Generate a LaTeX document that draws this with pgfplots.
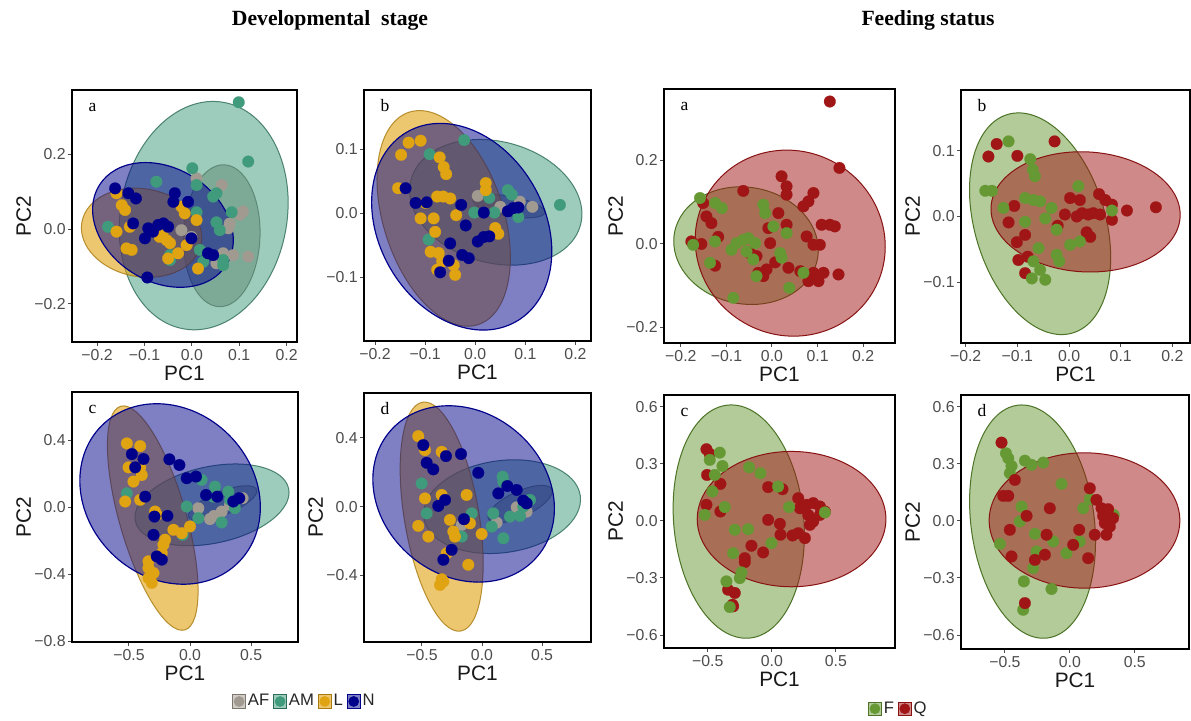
\documentclass[border=0pt]{standalone}
\usepackage{fontspec}
\setmainfont{Liberation Serif}
\newfontfamily\arial{Liberation Sans}
\usepackage{pgfplots}
\pgfplotsset{compat=1.18}
\definecolor{cAF}{HTML}{A09A90}
\definecolor{cAFe}{HTML}{7D776D}
\definecolor{cAM}{HTML}{3F9B7B}
\definecolor{cL}{HTML}{E0A312}
\definecolor{cN}{HTML}{00008B}
\definecolor{cF}{HTML}{669933}
\definecolor{cQ}{HTML}{A01515}
\definecolor{tickgray}{HTML}{4D4D4D}
\tikzset{
 eAF/.style={fill=cAFe, fill opacity=0.5, draw=cAFe!70!black, draw opacity=0.7, line width=0.6pt},
 eAM/.style={fill=cAM, fill opacity=0.5, draw=cAM!70!black, draw opacity=0.8, line width=0.6pt},
 eL/.style={fill=cL, fill opacity=0.6, draw=cL!75!black, draw opacity=0.8, line width=0.6pt},
 eN/.style={fill=cN, fill opacity=0.5, draw=cN, line width=0.7pt},
 eF/.style={fill=cF, fill opacity=0.5, draw=cF!75!black, line width=0.6pt},
 eQ/.style={fill=cQ, fill opacity=0.5, draw=cQ!85!black, line width=0.6pt},
}
\newcommand{\ELL}[6]{\draw[#1, rotate around={#6:(axis cs:#2,#3)}] (axis cs:#2,#3) ellipse [x radius=#4pt, y radius=#5pt];}
\newcommand{\LETTER}[1]{\node[font=\fontsize{10.5}{12}\selectfont, anchor=base west] at ([xshift=6.5pt,yshift=-13pt]rel axis cs:0,1) {#1};}
\newcommand{\KEY}[4]{\addlegendimage{legend image code/.code={\path[draw=#2, fill=#1, fill opacity=#3, line width=0.6pt] (0pt,-4pt) rectangle (8pt,4pt); \fill[#1] (4pt,0pt) circle (3pt);}}\addlegendentry{#4}}
\pgfplotsset{
 panel/.style={scale only axis, anchor=south west, clip=true, axis on top,
   axis line style={black, line width=1.1pt},
   tick align=outside, tick pos=left, major tick length=2.4pt,
   every tick/.style={tickgray, line width=0.6pt},
   ticklabel style={font=\fontsize{9.5}{10}\arial, text=tickgray},
   yticklabel style={inner xsep=1.2pt},
   xticklabel style={inner ysep=2pt},
   every axis x label/.style={at={([yshift=-19pt]axis description cs:0.5,0)}, anchor=center, font=\fontsize{12.5}{14}\arial, text=black!90},
   every axis y label/.style={at={([xshift=-29pt]axis description cs:0,0.5)}, anchor=center, rotate=90, font=\fontsize{12.5}{14}\arial, text=black!90},
 },
 leg/.style={legend style={at={#1}, anchor=center, draw=none, fill=none,
    font=\fontsize{10}{11}\arial, text=black!85, inner sep=0pt,
    nodes={inner xsep=1pt, inner ysep=1pt},
    /tikz/every even column/.append style={column sep=1.2pt},
    /tikz/every odd column/.append style={column sep=0pt}}, legend cell align=left},
 smallx/.style={xtick={-0.2,-0.1,0,0.1,0.2}, xticklabels={−0.2,−0.1,0.0,0.1,0.2}},
 bigx/.style={xtick={-0.5,0,0.5}, xticklabels={−0.5,0.0,0.5}},
 pts/.style={only marks, mark=*, mark size=3.5pt, forget plot, color=#1, mark options={draw=#1, fill=#1, line width=0.1pt}},
}
\begin{document}
\begin{tikzpicture}
\fill[white] (0,0) rectangle (714.6pt,432.6pt);
\path[use as bounding box] (0,0) rectangle (714.6pt,432.6pt);
\node[font=\bfseries\fontsize{13}{15}\selectfont] at (198pt,420.6pt) {Developmental~~stage};
\node[font=\bfseries\fontsize{13}{15}\selectfont] at (556.8pt,420.6pt) {Feeding status};

% ---------- L-a ----------
\begin{axis}[panel, at={(43.2pt,227.4pt)}, width=135pt, height=151.2pt,
  xmin=-0.253, xmax=0.222, ymin=-0.303, ymax=0.373, smallx,
  ytick={-0.2,0,0.2}, yticklabels={−0.2,0.0,0.2}, xlabel={PC1}, ylabel={PC2}]
\ELL{eAF}{0.063}{-0.018}{42.6}{23}{88}
\ELL{eAM}{0.025}{0.036}{69}{50}{80}
\ELL{eL}{-0.106}{-0.010}{36.4}{26.4}{-10}
\ELL{eN}{-0.061}{0.011}{45}{34}{-32}
\addplot[pts=cAF] coordinates {(0.010,0.136)(0.063,0.118)(0.108,0.047)(0.101,0.038)(0.080,0.015)(0.077,0.002)(-0.022,-0.003)(0.066,-0.065)(0.087,-0.070)(0.119,-0.074)(0.052,-0.092)(-0.001,-0.021)};
\addplot[pts=cAM] coordinates {(0.099,0.340)(0.119,0.181)(0.001,0.163)(-0.075,0.127)(0.010,0.118)(0.052,0.096)(0.045,0.087)(0.084,0.045)(0.010,0.045)(0.052,0.018)(0.059,-0.003)(-0.177,0.006)(0.017,-0.056)(-0.046,-0.070)(-0.046,-0.083)(0.066,-0.083)(0.066,-0.097)(0.024,-0.088)};
\addplot[pts=cL] coordinates {(-0.159,0.096)(-0.148,0.064)(-0.141,0.051)(-0.131,0.006)(-0.159,-0.007)(-0.138,-0.052)(-0.127,-0.056)(-0.022,0.060)(-0.015,0.042)(0.010,0.024)(-0.068,-0.021)(-0.053,-0.030)(-0.046,-0.038)(-0.011,-0.043)(-0.029,-0.065)(-0.050,-0.079)(0.013,-0.106)(-0.060,-0.003)};
\addplot[pts=cN] coordinates {(-0.162,0.109)(-0.134,0.096)(-0.118,0.082)(-0.036,0.096)(-0.039,0.073)(-0.008,0.073)(-0.124,0.015)(-0.092,0.002)(-0.071,0.011)(-0.060,0.015)(-0.050,0.006)(-0.082,-0.007)(-0.099,-0.025)(-0.001,-0.025)(0.034,-0.065)(0.045,-0.070)(-0.094,-0.130)};
\LETTER{a}
\end{axis}

% ---------- L-b ----------
\begin{axis}[panel, at={(218.4pt,228pt)}, width=136.2pt, height=150.6pt,
  xmin=-0.222, xmax=0.231, ymin=-0.199, ymax=0.192, smallx,
  ytick={-0.1,0,0.1}, yticklabels={−0.1,0.0,0.1}, xlabel={PC1}]
\ELL{eAF}{0.067}{0.011}{22}{6}{-10}
\ELL{eAM}{0.041}{0.017}{52.6}{36.4}{-15}
\ELL{eL}{-0.063}{-0.008}{67}{36}{108}
\ELL{eN}{-0.027}{-0.021}{65.6}{49.6}{120}
\addplot[pts=cAF] coordinates {(0.005,0.027)(0.050,0.010)(0.089,0.018)(0.114,0.010)};
\addplot[pts=cAM] coordinates {(-0.022,0.114)(-0.091,0.092)(0.065,0.036)(0.073,0.029)(0.028,0.024)(-0.002,0.001)(0.038,0.001)(0.086,-0.006)(-0.093,-0.041)(0.169,0.013)};
\addplot[pts=cL] coordinates {(-0.133,0.110)(-0.109,0.113)(-0.148,0.091)(-0.071,0.087)(-0.063,0.072)(-0.058,0.061)(-0.154,0.039)(0.021,0.047)(0.021,0.036)(-0.076,0.026)(-0.064,0.026)(-0.050,0.023)(-0.099,0.016)(-0.109,-0.008)(-0.083,-0.008)(-0.038,-0.003)(-0.080,-0.029)(0.040,-0.023)(0.046,-0.032)(-0.089,-0.060)(-0.073,-0.062)(-0.066,-0.075)(-0.043,-0.081)(-0.076,-0.088)(-0.040,-0.096)};
\addplot[pts=cN] coordinates {(-0.139,0.039)(-0.119,0.016)(-0.097,0.017)(-0.028,0.013)(-0.019,-0.019)(0.017,0.001)(0.065,0.003)(0.076,0.008)(0.086,0.009)(0.005,-0.044)(0.017,-0.037)(0.028,-0.036)(-0.050,-0.047)(-0.026,-0.065)(-0.013,-0.070)(-0.053,-0.074)(-0.070,-0.092)};
\LETTER{b}
\end{axis}

% ---------- L-c ----------
\begin{axis}[panel, at={(43.2pt,47.4pt)}, width=135.6pt, height=150pt,
  xmin=-0.966, xmax=0.884, ymin=-0.805, ymax=0.688, bigx,
  ytick={-0.8,-0.4,0,0.4}, yticklabels={−0.8,−0.4,0.0,0.4}, xlabel={PC1}, ylabel={PC2},
  leg={(axis description cs:1.027,-0.238)}, legend columns=4]
\ELL{eAF}{0.267}{0.024}{22}{7}{22}
\ELL{eAM}{0.180}{0.014}{47}{23}{12}
\ELL{eL}{-0.305}{-0.065}{69.8}{20}{106}
\ELL{eN}{-0.163}{0.079}{58}{50}{-45}
\addplot[pts=cAF] coordinates {(0.068,-0.006)(0.163,-0.071)(0.196,-0.052)(0.259,-0.026)(0.327,0.014)(0.430,0.054)};
\addplot[pts=cAM] coordinates {(-0.517,0.083)(0.095,0.163)(0.204,0.123)(0.313,0.093)(0.327,0.044)(0.367,-0.006)(-0.027,0.004)(0.068,-0.065)(0.259,-0.091)(-0.060,-0.165)(0.190,0.063)};
\addplot[pts=cL] coordinates {(-0.517,0.381)(-0.408,0.365)(-0.503,0.238)(-0.408,0.238)(-0.395,0.192)(-0.463,0.153)(-0.531,0.034)(-0.408,0.044)(-0.286,-0.026)(-0.272,-0.046)(-0.136,-0.135)(-0.068,-0.155)(0.000,-0.115)(-0.204,-0.194)(-0.218,-0.224)(-0.231,-0.274)(-0.340,-0.323)(-0.340,-0.363)(-0.299,-0.393)(-0.313,-0.452)(-0.340,-0.423)};
\addplot[pts=cN] coordinates {(-0.476,0.317)(-0.381,0.288)(-0.449,0.238)(-0.169,0.286)(-0.087,0.252)(-0.027,0.173)(0.049,0.183)(-0.367,0.063)(0.131,0.073)(0.223,0.063)(0.354,0.034)(0.403,0.054)(-0.291,-0.056)(-0.185,-0.052)(-0.299,-0.165)(-0.272,-0.294)(-0.231,-0.313)};
\LETTER{c}
\KEY{cAF}{cAFe}{0.5}{AF}
\KEY{cAM}{cAM!70!black}{0.5}{AM}
\KEY{cL}{cL!75!black}{0.6}{L}
\KEY{cN}{cN}{0.5}{N}
\end{axis}

% ---------- L-d ----------
\begin{axis}[panel, at={(218.4pt,47.4pt)}, width=136.2pt, height=149.4pt,
  xmin=-0.983, xmax=0.908, ymin=-0.787, ymax=0.661, bigx,
  ytick={-0.4,0,0.4}, yticklabels={−0.4,0.0,0.4}, xlabel={PC1}, ylabel={PC2}]
\addplot[pts=cAF] coordinates {(0.122,-0.093)(0.289,-0.004)(0.372,-0.029)(-0.169,-0.106)};
\addplot[pts=cAM] coordinates {(-0.503,0.135)(0.172,0.174)(0.178,0.145)(0.094,-0.039)(0.233,-0.058)(0.317,-0.054)(0.081,-0.116)(0.178,-0.184)(-0.169,-0.174)(-0.461,-0.039)(-0.086,-0.039)(0.400,0.039)(0.344,0.000)};
\addplot[pts=cL] coordinates {(-0.531,0.410)(-0.475,0.329)(-0.336,0.319)(-0.475,0.048)(-0.531,-0.112)(-0.447,-0.174)(-0.267,-0.077)(-0.239,-0.145)(-0.128,0.068)(-0.100,-0.097)(-0.225,-0.174)(-0.114,-0.338)(-0.336,-0.422)(-0.350,-0.455)(-0.322,-0.435)(-0.003,-0.159)(-0.294,-0.271)(-0.336,0.068)};
\addplot[pts=cN] coordinates {(-0.489,0.358)(-0.300,0.294)(-0.175,0.306)(-0.461,0.255)(-0.406,0.217)(-0.031,0.197)(0.136,0.077)(0.211,0.120)(0.289,0.097)(0.344,0.035)(0.372,0.019)(-0.322,-0.309)(-0.253,-0.251)(-0.364,0.004)(-0.308,0.039)(-0.150,-0.073)};
\ELL{eAF}{0.317}{0.015}{21}{7.6}{25}
\ELL{eAM}{0.167}{0}{47.4}{27.6}{8}
\ELL{eL}{-0.336}{-0.058}{69.6}{22.4}{99.5}
\ELL{eN}{-0.153}{0.074}{58}{49}{-40}
\LETTER{d}
\end{axis}

% ---------- R-a ----------
\begin{axis}[panel, at={(398.4pt,226.8pt)}, width=138.6pt, height=152.4pt,
  xmin=-0.237, xmax=0.270, ymin=-0.237, ymax=0.371, smallx,
  ytick={-0.2,0,0.2}, yticklabels={−0.2,0.0,0.2}, xlabel={PC1}, ylabel={PC2}]
\ELL{eF}{-0.057}{-0.004}{43.6}{35}{-10}
\ELL{eQ}{0.040}{0.002}{57.6}{55.2}{-30}
\addplot[pts=cQ] coordinates {(0.127,0.341)(0.148,0.182)(0.021,0.162)(0.032,0.138)(0.032,0.118)(-0.063,0.127)(0.091,0.122)(0.080,0.102)(0.069,0.090)(-0.151,0.098)(-0.144,0.066)(-0.133,0.050)(-0.118,0.017)(-0.008,0.038)(0.014,0.074)(0.032,0.046)(-0.004,0.002)(-0.177,0.006)(-0.155,0.000)(-0.125,-0.052)(-0.048,-0.022)(-0.034,-0.029)(0.007,-0.044)(0.036,-0.057)(-0.030,-0.069)(-0.012,-0.061)(-0.019,-0.077)(0.076,0.018)(0.091,-0.002)(0.105,-0.002)(0.109,0.046)(0.127,0.046)(0.138,0.042)(0.091,-0.069)(0.102,-0.089)(0.080,-0.089)(0.113,-0.069)(0.146,-0.073)(0.062,-0.065)};
\addplot[pts=cF] coordinates {(-0.158,0.110)(-0.125,0.098)(-0.110,0.086)(-0.019,0.094)(-0.015,0.074)(0.003,0.042)(0.032,0.026)(-0.078,0.002)(-0.063,0.010)(-0.052,0.014)(-0.037,0.002)(-0.089,-0.014)(-0.056,-0.018)(-0.041,-0.037)(0.018,-0.022)(0.021,-0.033)(-0.125,0.006)(-0.136,-0.045)(-0.173,-0.002)(0.069,-0.069)(0.038,-0.105)(-0.085,-0.129)(-0.034,-0.077)};
\LETTER{a}
\end{axis}

% ---------- R-b ----------
\begin{axis}[panel, at={(576.6pt,226.8pt)}, width=137.4pt, height=151.8pt,
  xmin=-0.209, xmax=0.234, ymin=-0.192, ymax=0.192, smallx,
  ytick={-0.1,0,0.1}, yticklabels={−0.1,0.0,0.1}, xlabel={PC1}, ylabel={PC2}]
\ELL{eF}{-0.056}{-0.011}{68.4}{39.2}{106.6}
\ELL{eQ}{0.032}{0.007}{56.8}{36}{-3}
\addplot[pts=cQ] coordinates {(-0.140,0.110)(-0.156,0.091)(-0.100,0.092)(-0.028,0.114)(0.058,0.034)(0.070,0.025)(0.083,0.018)(0.002,0.028)(0.021,0.025)(-0.008,0.003)(0.015,0.000)(0.025,0.005)(0.037,0.003)(0.047,0.005)(0.060,0.003)(0.083,-0.005)(0.112,0.009)(0.168,0.014)(-0.106,0.016)(-0.117,-0.009)(-0.085,-0.028)(-0.101,-0.039)(-0.022,-0.014)(0.034,-0.024)(0.041,-0.031)(-0.098,-0.066)(-0.080,-0.061)(-0.085,-0.086)};
\addplot[pts=cF] coordinates {(-0.117,0.114)(-0.075,0.087)(-0.070,0.071)(-0.066,0.061)(-0.162,0.039)(-0.149,0.039)(-0.085,0.028)(-0.069,0.025)(-0.056,0.023)(0.018,0.046)(-0.034,0.013)(-0.127,0.013)(-0.085,-0.008)(-0.046,-0.003)(-0.024,-0.020)(0.083,0.009)(-0.059,-0.048)(0.002,-0.043)(0.021,-0.038)(-0.024,-0.058)(-0.019,-0.068)(-0.069,-0.068)(-0.056,-0.081)(-0.072,-0.094)(-0.046,-0.096)};
\LETTER{b}
\end{axis}

% ---------- R-c ----------
\begin{axis}[panel, at={(398.4pt,43.8pt)}, width=138.6pt, height=151.8pt,
  xmin=-0.841, xmax=0.961, ymin=-0.668, ymax=0.661, bigx,
  ytick={-0.6,-0.3,0,0.3,0.6}, yticklabels={−0.6,−0.3,0.0,0.3,0.6}, xlabel={PC1}, ylabel={PC2},
  leg={(axis description cs:1.013,-0.24)}, legend columns=2]
\ELL{eF}{-0.258}{-0.004}{70.2}{39}{95.3}
\ELL{eQ}{0.154}{0.009}{56.6}{40.6}{0}
\addplot[pts=cQ] coordinates {(-0.510,0.376)(-0.484,0.351)(-0.505,0.241)(-0.401,0.194)(-0.510,0.084)(-0.401,0.049)(-0.029,0.177)(0.083,0.166)(-0.029,0.005)(0.063,-0.016)(0.068,-0.073)(0.161,-0.077)(0.206,-0.065)(0.258,-0.091)(0.206,0.119)(0.271,0.084)(0.323,0.093)(0.375,0.075)(0.219,0.066)(0.284,0.031)(0.323,-0.003)(0.297,-0.021)(0.375,0.031)(0.414,0.049)(-0.159,-0.131)(-0.068,-0.166)(-0.211,-0.196)(-0.211,-0.217)(-0.341,-0.362)(-0.289,-0.379)(-0.307,-0.441)(-0.302,-0.449)};
\addplot[pts=cF] coordinates {(-0.406,0.358)(-0.484,0.320)(-0.385,0.288)(-0.445,0.241)(-0.177,0.281)(-0.089,0.250)(-0.464,0.154)(-0.367,0.072)(-0.523,0.031)(0.049,0.180)(0.135,0.072)(-0.289,-0.047)(-0.185,-0.044)(-0.003,-0.117)(-0.302,-0.170)(-0.237,-0.271)(-0.250,-0.301)(-0.354,-0.318)(-0.328,-0.453)(0.414,0.044)};
\LETTER{c}
\KEY{cF}{cF!75!black}{0.5}{F}
\KEY{cQ}{cQ!85!black}{0.5}{Q}
\end{axis}

% ---------- R-d ----------
\begin{axis}[panel, at={(576.6pt,43.2pt)}, width=136.8pt, height=152.4pt,
  xmin=-0.838, xmax=0.918, ymin=-0.673, ymax=0.661, bigx,
  ytick={-0.6,-0.3,0,0.3,0.6}, yticklabels={−0.6,−0.3,0.0,0.3,0.6}, xlabel={PC1}, ylabel={PC2}]
\addplot[pts=cF] coordinates {(-0.492,0.355)(-0.474,0.329)(-0.449,0.288)(-0.346,0.316)(-0.295,0.294)(-0.205,0.306)(-0.462,0.250)(-0.354,-0.318)(-0.141,-0.358)(-0.359,-0.467)(-0.064,0.194)(0.154,0.114)(0.338,0.031)(-0.372,0.075)(-0.385,-0.003)(-0.538,-0.121)(-0.269,-0.068)(-0.256,-0.161)(-0.128,-0.108)(-0.026,-0.170)(0.077,-0.108)(-0.282,-0.248)(0.103,0.066)};
\addplot[pts=cQ] coordinates {(-0.526,0.411)(-0.423,0.215)(-0.154,0.066)(-0.333,0.026)(-0.462,-0.047)(-0.449,-0.187)(-0.269,-0.205)(-0.179,-0.073)(-0.192,-0.178)(0.026,-0.126)(0.141,-0.196)(0.072,-0.047)(-0.346,-0.432)(0.154,0.171)(0.205,0.110)(0.244,0.066)(0.295,0.061)(0.256,0.026)(0.269,-0.012)(0.308,-0.030)(0.282,-0.073)(0.192,-0.073)(0.333,0.014)(-0.513,0.131)(-0.474,0.131)};
\ELL{eF}{-0.287}{-0.004}{70.4}{37}{97.3}
\ELL{eQ}{0.113}{0.002}{57.2}{40.6}{0}
\LETTER{d}
\end{axis}
\end{tikzpicture}
\end{document}
